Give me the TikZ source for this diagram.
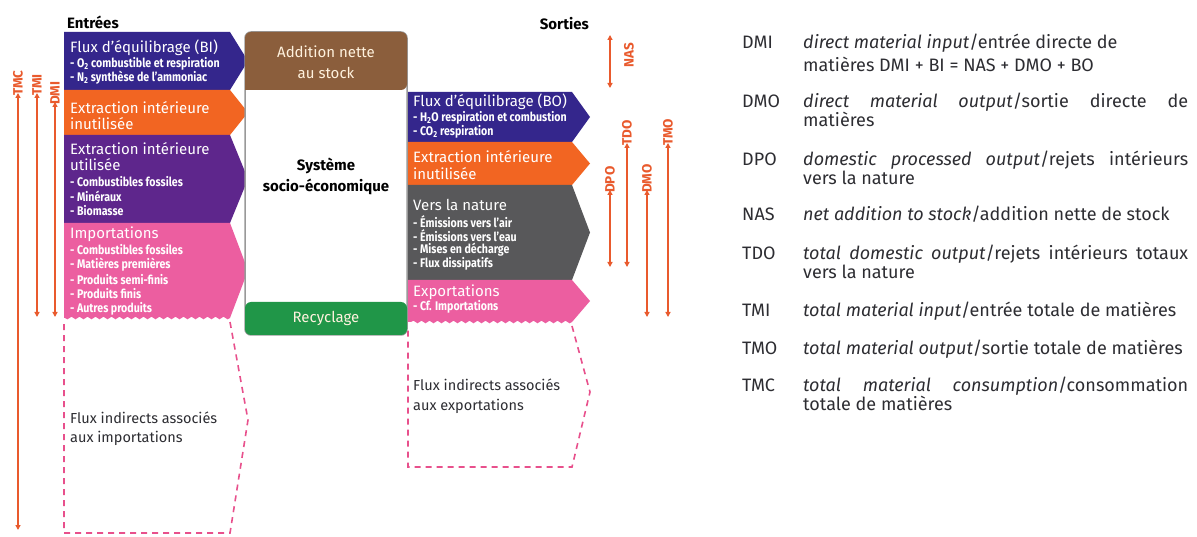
\documentclass[tikz,border=0pt]{standalone}
\usepackage{fontspec}
\setmainfont{Fira Sans}
\newfontfamily\cond{Fira Sans}[FakeStretch=0.85]
\usetikzlibrary{arrows.meta,decorations.pathmorphing}
\definecolor{cblue}{RGB}{52,38,140}
\definecolor{corange}{RGB}{242,101,34}
\definecolor{cpurple}{RGB}{94,38,140}
\definecolor{cpink}{RGB}{236,94,160}
\definecolor{cgray}{RGB}{88,88,90}
\definecolor{cbrown}{RGB}{139,94,60}
\definecolor{cgreen}{RGB}{32,150,72}
\definecolor{carrow}{RGB}{233,90,45}
\definecolor{cdash}{RGB}{232,80,140}
\definecolor{ccream}{RGB}{255,242,222}
\definecolor{ctext}{RGB}{45,45,50}
\newcommand\chevfill[6]{\fill[#1] (#2,#5) -- (#3,#5) -- (#4,{(#5+#6)/2}) -- (#3,#6) -- (#2,#6) -- cycle;}
\tikzset{
  ttl/.style={font=\fontsize{15}{15}\selectfont, text=white, inner sep=0pt, anchor=west},
  bul/.style={font=\cond\bfseries\fontsize{12.5}{12.5}\selectfont, text=white, inner sep=0pt, anchor=west},
  hdr/.style={font=\bfseries\fontsize{15}{15}\selectfont, text=black, inner sep=0pt},
  ctr/.style={font=\fontsize{15}{15}\selectfont, text=ccream, inner sep=0pt},
  ind/.style={font=\fontsize{14.5}{14.5}\selectfont, text=ctext, inner sep=0pt, anchor=west},
  lab/.style={font=\bfseries\fontsize{13.5}{13.5}\selectfont, text=carrow, rotate=90, inner sep=0pt, anchor=west},
  arr/.style={carrow, line width=1.4pt, {Triangle[length=5pt,width=5pt]}-{Triangle[length=5pt,width=5pt]}},
  dsh/.style={cdash, line width=1.6pt, dash pattern=on 6pt off 5pt},
  abbr/.style={font=\fontsize{18}{18}\selectfont, text=ctext, inner sep=0pt, anchor=base west},
  desc/.style={font=\fontsize{18}{18}\selectfont, text=ctext, inner sep=0pt, anchor=base west},
}
\begin{document}
\begin{tikzpicture}[x=1pt,y=-1pt]
\fill[white] (0,0) rectangle (1197,537);
\useasboundingbox (0,0) rectangle (1197,537);

% ---------- left blocks ----------
\chevfill{cblue}{64}{230}{248}{32}{90}
\chevfill{corange}{64}{230}{248}{90}{135}
\chevfill{cpurple}{64}{230}{248}{135}{223}
\fill[cpink] (64,318) -- (64,223) -- (230,223) -- (248,270.5) -- (230,318)
  decorate[decoration={snake,segment length=8pt,amplitude=1.3pt}]{-- (64,318)} -- cycle;
\draw[dsh] (230,322) -- (248,420) -- (230,533) -- (64,533) -- (64,322);

% ---------- right blocks ----------
\chevfill{cblue}{408}{572}{590}{92}{142}
\chevfill{corange}{408}{572}{590}{142}{185}
\chevfill{cgray}{408}{572}{590}{185}{280}
\fill[cpink] (408,322) -- (408,280) -- (572,280) -- (590,301) -- (572,322)
  decorate[decoration={snake,segment length=8pt,amplitude=1.3pt}]{-- (408,322)} -- cycle;
\draw[dsh] (572,326) -- (590,392) -- (572,467) -- (408,467) -- (408,326);

% ---------- central box ----------
\filldraw[fill=white, draw=gray!80, line width=1.5pt, rounded corners=6pt] (245,32) rectangle (407,335);
\fill[cbrown, rounded corners=6pt] (245,90) -- (245,32) -- (407,32) -- (407,90) [sharp corners] -- cycle;
\fill[cgreen, rounded corners=6pt] (245,302) rectangle (407,335);
\node[ctr] (an1) at (326,52) {Addition nette};
\node[ctr] (an2) at (326,73) {au stock};
\node[hdr] (se1) at (326,166) {Système};
\node[hdr] (se2) at (326,187) {socio-économique};
\node[ctr] (rec) at (326,318) {Recyclage};

% ---------- headers ----------
\node[hdr, anchor=west] (entrees) at (67,22) {Entrées};
\node[hdr, anchor=east] (sorties) at (589,24) {Sorties};

% ---------- left texts ----------
\node[ttl] (bi) at (70,48) {Flux d’équilibrage (BI)};
\node[bul] (bi1) at (70,64) {- O\textsubscript{2} combustible et respiration};
\node[bul] (bi2) at (70,78) {- N\textsubscript{2} synthèse de l’ammoniac};
\node[ttl] (ein1) at (70,108) {Extraction intérieure};
\node[ttl] (ein2) at (70,124) {inutilisée};
\node[ttl] (eu1) at (70,149) {Extraction intérieure};
\node[ttl] (eu2) at (70,165) {utilisée};
\node[bul] (eu3) at (70,182) {- Combustibles fossiles};
\node[bul] (eu4) at (70,196) {- Minéraux};
\node[bul] (eu5) at (70,211) {- Biomasse};
\node[ttl] (imp) at (70,234) {Importations};
\node[bul] (imp1) at (70,250) {- Combustibles fossiles};
\node[bul] (imp2) at (70,265) {- Matières premières};
\node[bul] (imp3) at (70,280) {- Produits semi-finis};
\node[bul] (imp4) at (70,294) {- Produits finis};
\node[bul] (imp5) at (70,309) {- Autres produits};
\node[ind] (fi1) at (70,418) {Flux indirects associés};
\node[ind] (fi2) at (70,438) {aux importations};

% ---------- right texts ----------
\node[ttl] (bo) at (413,102) {Flux d’équilibrage (BO)};
\node[bul] (bo1) at (413,118) {- H\textsubscript{2}O respiration et combustion};
\node[bul] (bo2) at (413,132) {- CO\textsubscript{2} respiration};
\node[ttl] (rin1) at (413,157) {Extraction intérieure};
\node[ttl] (rin2) at (413,174) {inutilisée};
\node[ttl] (vn) at (413,205) {Vers la nature};
\node[bul] (vn1) at (413,222) {- Émissions vers l’air};
\node[bul] (vn2) at (413,236) {- Émissions vers l’eau};
\node[bul] (vn3) at (413,250) {- Mises en décharge};
\node[bul] (vn4) at (413,264) {- Flux dissipatifs};
\node[ttl] (exp) at (413,292) {Exportations};
\node[bul] (exp1) at (413,307) {- Cf. Importations};
\node[ind] (fe1) at (413,385) {Flux indirects associés};
\node[ind] (fe2) at (413,406) {aux exportations};

% ---------- measure arrows, left ----------
\coordinate (tmcT) at (18,93);  \coordinate (tmcB) at (18,530);
\coordinate (tmiT) at (37,93);  \coordinate (tmiB) at (37,317);
\coordinate (dmiT) at (55,102); \coordinate (dmiB) at (55,317);
\draw[arr] (tmcT) -- (tmcB);
\draw[arr] (tmiT) -- (tmiB);
\draw[arr] (dmiT) -- (dmiB);
\node[lab] (ltmc) at ([yshift=-3pt]tmcT) {TMC};
\node[lab] (ltmi) at ([yshift=-3pt]tmiT) {TMI};
\node[lab] (ldmi) at ([yshift=-3pt]dmiT) {DMI};

% ---------- measure arrows, right ----------
\coordinate (nasT) at (610,35);  \coordinate (nasB) at (610,88);
\coordinate (tdoT) at (627,143); \coordinate (tdoB) at (627,267);
\coordinate (dpoT) at (610,190); \coordinate (dpoB) at (610,267);
\coordinate (dmoT) at (647,190); \coordinate (dmoB) at (647,317);
\coordinate (tmoT) at (668,143); \coordinate (tmoB) at (668,317);
\draw[arr] (nasT) -- (nasB);
\draw[arr] (tdoT) -- (tdoB);
\draw[arr] (dpoT) -- (dpoB);
\draw[arr] (dmoT) -- (dmoB);
\draw[arr] (tmoT) -- (tmoB);
\node[lab, anchor=center] (lnas) at (629,55) {NAS};
\node[lab] (ltdo) at ([yshift=-3pt]tdoT) {TDO};
\node[lab] (ldpo) at ([yshift=-3pt]dpoT) {DPO};
\node[lab] (ldmo) at ([yshift=-3pt]dmoT) {DMO};
\node[lab] (ltmo) at ([yshift=-3pt]tmoT) {TMO};

% ---------- legend ----------
\def\lw{385pt}
\node[abbr] (gDMI) at (742,49) {DMI};
\node[desc] (dDMI) at (803,49) {\textit{direct material input}/entrée directe de};
\node[desc] (dDMIb) at (803,72) {matières DMI + BI = NAS + DMO + BO};
\node[abbr] (gDMO) at (742,108) {DMO};
\node[desc] (dDMO) at (803,108) {\makebox[\lw][s]{\textit{direct material output}/sortie directe de}};
\node[desc] (dDMOb) at (803,127) {matières};
\node[abbr] (gDPO) at (742,166) {DPO};
\node[desc] (dDPO) at (803,166) {\makebox[\lw][s]{\textit{domestic processed output}/rejets intérieurs}};
\node[desc] (dDPOb) at (803,185) {vers la nature};
\node[abbr] (gNAS) at (742,221) {NAS};
\node[desc] (dNAS) at (803,221) {\textit{net addition to stock}/addition nette de stock};
\node[abbr] (gTDO) at (742,260) {TDO};
\node[desc] (dTDO) at (803,260) {\makebox[\lw][s]{\textit{total domestic output}/rejets intérieurs totaux}};
\node[desc] (dTDOb) at (803,279) {vers la nature};
\node[abbr] (gTMI) at (742,317) {TMI};
\node[desc] (dTMI) at (803,317) {\textit{total material input}/entrée totale de matières};
\node[abbr] (gTMO) at (742,355) {TMO};
\node[desc] (dTMO) at (803,355) {\textit{total material output}/sortie totale de matières};
\node[abbr] (gTMC) at (742,391) {TMC};
\node[desc] (dTMC) at (803,391) {\makebox[\lw][s]{\textit{total material consumption}/consommation}};
\node[desc] (dTMCb) at (803,410) {totale de matières};
\end{tikzpicture}
\end{document}
